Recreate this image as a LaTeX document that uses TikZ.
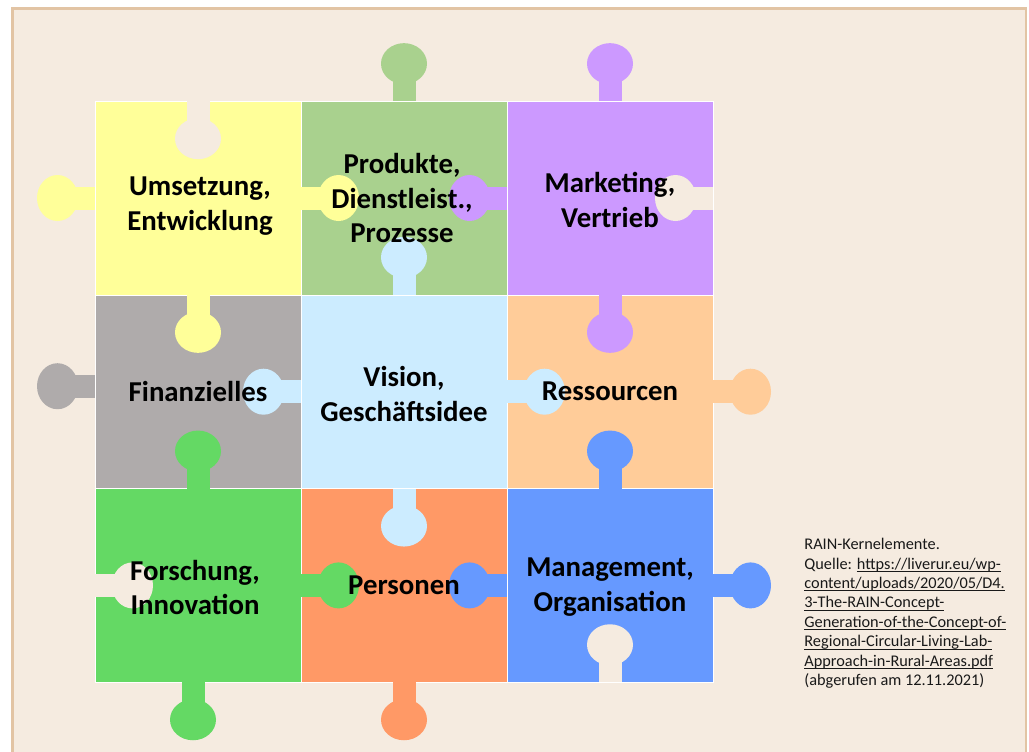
\documentclass[tikz,border=0pt]{standalone}
\usepackage{fontspec}
\setmainfont{Carlito}
\usetikzlibrary{positioning}
\definecolor{bgbeige}{HTML}{F5EBE0}
\definecolor{framecol}{HTML}{E2C4A4}
\definecolor{yellowtile}{HTML}{FFFF99}
\definecolor{greentile}{HTML}{A9D18E}
\definecolor{purpletile}{HTML}{CC99FF}
\definecolor{graytile}{HTML}{AFABAB}
\definecolor{lightbluetile}{HTML}{CCECFF}
\definecolor{peachtile}{HTML}{FFCC99}
\definecolor{brightgreentile}{HTML}{64D964}
\definecolor{orangetile}{HTML}{FF9966}
\definecolor{bluetile}{HTML}{6699FF}
\newcommand{\ulink}[1]{\setbox0\hbox{#1}\rlap{\rule[-1.4pt]{\wd0}{0.45pt}}\box0}
\begin{document}
\begin{tikzpicture}[
	x=0.5pt, y=-0.5pt,
	piece/.style = {rectangle, draw=white!60!, line width=0.3pt, minimum width=103pt, minimum height=96.85pt, inner sep=0pt, outer sep=0pt},
	tiletext/.style = {font=\bfseries\fontsize{14.4}{17.4}\selectfont, align=center, inner sep=0pt},
	note/.style = {font=\fontsize{8.15}{9.7}\selectfont, align=left, inner sep=0pt, text=black!90},
	knob/.pic = {\fill[#1] (0,-11.5) rectangle (30,11.5); \fill[#1] (37.5,0) ellipse [x radius=20.5, y radius=23];},
]
\useasboundingbox (0,0) rectangle (1029,751);
\clip (0,0) rectangle (1029,751);
\fill[white] (0,0) rectangle (1029,751);
\draw[framecol, fill=bgbeige, line width=1.2pt] (12.5,8.5) rectangle (1026,780);

\node[piece, fill=yellowtile] (umsetzung) at (198,198) {};
\node[piece, fill=greentile] (produkte) [right=0pt of umsetzung] {};
\node[piece, fill=purpletile] (marketing) [right=0pt of produkte] {};
\node[piece, fill=graytile] (finanz) [below=0pt of umsetzung] {};
\node[piece, fill=lightbluetile] (vision) [right=0pt of finanz] {};
\node[piece, fill=peachtile] (ressourcen) [right=0pt of vision] {};
\node[piece, fill=brightgreentile] (forschung) [below=0pt of finanz] {};
\node[piece, fill=orangetile] (personen) [right=0pt of forschung] {};
\node[piece, fill=bluetile] (management) [right=0pt of personen] {};

\pic[rotate=180] at (umsetzung.west) {knob=yellowtile};
\pic at (umsetzung.east) {knob=yellowtile};
\pic[rotate=270] at (umsetzung.south) {knob=yellowtile};
\pic[rotate=270] at (umsetzung.north) {knob=bgbeige};
\pic[rotate=90] at (produkte.north) {knob=greentile};
\pic[rotate=90] at (vision.north) {knob=lightbluetile};
\pic[rotate=180] at (marketing.west) {knob=purpletile};
\pic[rotate=90] at (marketing.north) {knob=purpletile};
\pic[rotate=180] at (marketing.east) {knob=bgbeige};
\pic[rotate=270] at (marketing.south) {knob=purpletile};
\pic[rotate=180] at ([yshift=2.75pt]finanz.west) {knob=graytile};
\pic[rotate=180] at (vision.west) {knob=lightbluetile};
\pic at (vision.east) {knob=lightbluetile};
\pic[rotate=270] at (vision.south) {knob=lightbluetile};
\pic[rotate=90] at (forschung.north) {knob=brightgreentile};
\pic at (ressourcen.east) {knob=peachtile};
\pic[rotate=90] at (management.north) {knob=bluetile};
\pic at (forschung.west) {knob=bgbeige};
\pic at (forschung.east) {knob=brightgreentile};
\pic[rotate=270] at ([xshift=-2.5pt]forschung.south) {knob=brightgreentile};
\pic[rotate=270] at (personen.south) {knob=orangetile};
\pic[rotate=180] at (management.west) {knob=bluetile};
\pic at (management.east) {knob=bluetile};
\pic[rotate=90] at (management.south) {knob=bgbeige};

\node[tiletext] (t-umsetzung) at ([xshift=1pt,yshift=-4pt]umsetzung.center) {Umsetzung,\\Entwicklung};
\node[tiletext] (t-produkte) at ([xshift=-1pt]produkte.center) {Produkte,\\Dienstleist.,\\Prozesse};
\node[tiletext] (t-marketing) at ([yshift=-1pt]marketing.center) {Marketing,\\Vertrieb};
\node[tiletext] (t-finanz) at (finanz.center) {Finanzielles};
\node[tiletext] (t-vision) at ([yshift=-1pt]vision.center) {Vision,\\Geschäftsidee};
\node[tiletext] (t-ressourcen) at (ressourcen.center) {Ressourcen};
\node[tiletext] (t-forschung) at ([xshift=-1.5pt,yshift=-1pt]forschung.center) {Forschung,\\Innovation};
\node[tiletext] (t-personen) at (personen.center) {Personen};
\node[tiletext] (t-management) at ([yshift=-1pt]management.center) {Management,\\Organisation};

\node[note, anchor=north west] (quelle) at (804,538) {RAIN-Kernelemente.\\Quelle: \ulink{https://liverur.eu/wp-}\\\ulink{content/uploads/2020/05/D4.}\\\ulink{3-The-RAIN-Concept-}\\\ulink{Generation-of-the-Concept-of-}\\\ulink{Regional-Circular-Living-Lab-}\\\ulink{Approach-in-Rural-Areas.pdf}\\(abgerufen am 12.11.2021)};
\end{tikzpicture}
\end{document}
